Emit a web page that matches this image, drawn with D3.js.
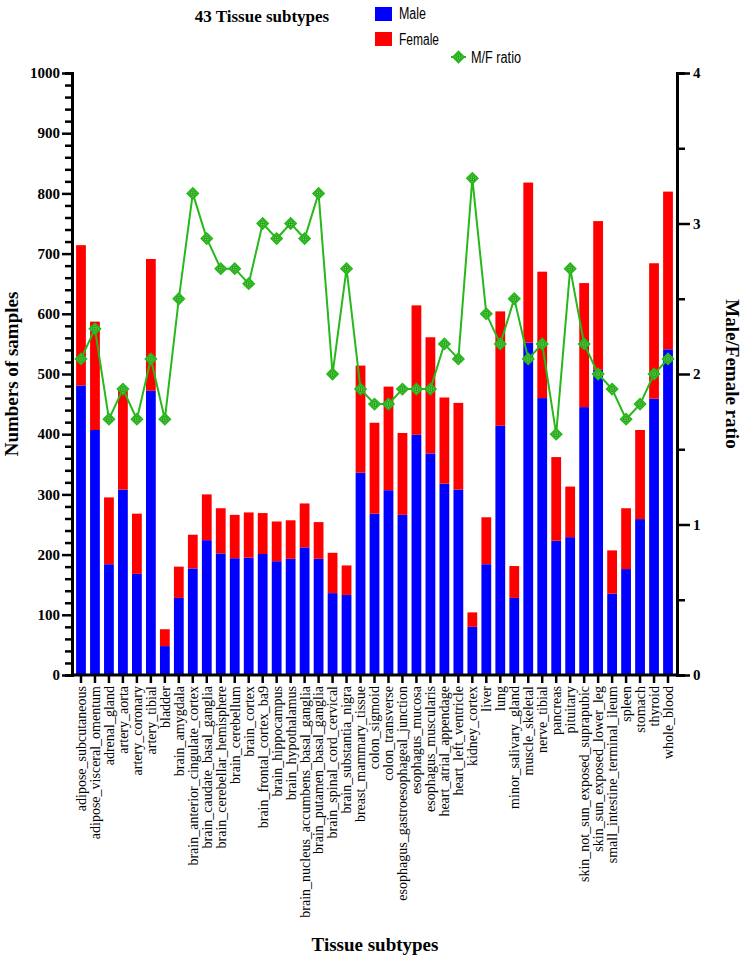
<!DOCTYPE html>
<html>
<head>
<meta charset="utf-8">
<script src="https://cdn.jsdelivr.net/npm/d3@7"></script>
<style>
  body { margin: 0; background: #fff; }
  svg text { font-family: "Liberation Serif", "Times New Roman", serif; }
  .legend text { font-family: "Liberation Sans", Arial, sans-serif; }
</style>
</head>
<body>
<div id="chart"></div>
<script>
//Data
const tissues = ["adipose_subcutaneous","adipose_visceral_omentum","adrenal_gland","artery_aorta","artery_coronary",
  "artery_tibial","bladder","brain_amygdala","brain_anterior_cingulate_cortex","brain_caudate_basal_ganglia",
  "brain_cerebellar_hemisphere","brain_cerebellum","brain_cortex","brain_frontal_cortex_ba9","brain_hippocampus",
  "brain_hypothalamus","brain_nucleus_accumbens_basal_ganglia","brain_putamen_basal_ganglia","brain_spinal_cord_cervical",
  "brain_substantia_nigra","breast_mammary_tissue","colon_sigmoid","colon_transverse","esophagus_gastroesophageal_junction",
  "esophagus_mucosa","esophagus_muscularis","heart_atrial_appendage","heart_left_ventricle","kidney_cortex","liver","lung",
  "minor_salivary_gland","muscle_skeletal","nerve_tibial","pancreas","pituitary","skin_not_sun_exposed_suprapubic",
  "skin_sun_exposed_lower_leg","small_intestine_terminal_ileum","spleen","stomach","thyroid","whole_blood"];

const male = [481,407,184,308,168,472,48,128,177,224,202,194,195,201,189,193,212,193,136,133,336,268,307,266,399,368,318,308,80,184,414,128,552,460,223,229,445,507,135,176,259,459,541];
const female = [233,180,111,167,100,219,28,52,56,76,75,72,75,68,66,64,73,61,67,49,178,151,172,136,215,193,143,144,24,78,190,53,266,210,139,84,206,247,72,101,148,225,262];
const ratio = [2.1,2.3,1.7,1.9,1.7,2.1,1.7,2.5,3.2,2.9,2.7,2.7,2.6,3.0,2.9,3.0,2.9,3.2,2.0,2.7,1.9,1.8,1.8,1.9,1.9,1.9,2.2,2.1,3.3,2.4,2.2,2.5,2.1,2.2,1.6,2.7,2.2,2.0,1.9,1.7,1.8,2.0,2.1];

const leftTicks = [0,100,200,300,400,500,600,700,800,900,1000];
const rightTicks = [0,1,2,3,4];

//Variables
let width = 744, height = 959,
    plot = {left: 72, right: 677, top: 73, bottom: 675};

let svg = d3.select("#chart").append("svg")
  .attr("width", width)
  .attr("height", height);

let x = d3.scaleBand()
  .domain(tissues)
  .range([74, 675])
  .paddingInner(0.3)
  .paddingOuter(0.15);

let yL = d3.scaleLinear().domain([0, 1000]).range([plot.bottom, plot.top]);
let yR = d3.scaleLinear().domain([0, 4]).range([plot.bottom, plot.top]);

let rows = tissues.map((t, i) => ({name: t, male: male[i], female: female[i], ratio: ratio[i]}));

//Bars: male at bottom, female stacked above
svg.append("g").selectAll("rect.male")
  .data(rows).enter().append("rect")
    .attr("x", d => x(d.name))
    .attr("width", x.bandwidth())
    .attr("y", d => yL(d.male))
    .attr("height", d => yL(0) - yL(d.male))
    .attr("fill", "#0000ff");

svg.append("g").selectAll("rect.female")
  .data(rows).enter().append("rect")
    .attr("x", d => x(d.name))
    .attr("width", x.bandwidth())
    .attr("y", d => yL(d.male + d.female))
    .attr("height", d => yL(d.male) - yL(d.male + d.female))
    .attr("fill", "#ff0000");

//Ratio line
let cx = d => x(d.name) + x.bandwidth() / 2;
let line = d3.line().x(cx).y(d => yR(d.ratio));
svg.append("path")
  .datum(rows)
  .attr("d", line)
  .attr("fill", "none")
  .attr("stroke", "#27b81b")
  .attr("stroke-width", 2);

function drawMarker(g) {
  g.append("path")
    .attr("d", d3.symbol().type(d3.symbolSquare).size(55))
    .attr("transform", "rotate(45)")
    .attr("fill", "#7ad86a")
    .attr("stroke", "#27b81b")
    .attr("stroke-width", 2);
  g.append("circle").attr("r", 2.6).attr("fill", "none").attr("stroke", "#1f9a12").attr("stroke-width", 0.9);
  g.append("path").attr("d", "M-2.6,0H2.6M0,-2.6V2.6").attr("stroke", "#1f9a12").attr("stroke-width", 0.9);
}

svg.append("g").selectAll("g.marker")
  .data(rows).enter().append("g")
    .attr("class", "marker")
    .attr("transform", d => "translate(" + cx(d) + "," + yR(d.ratio) + ")")
    .each(function() { drawMarker(d3.select(this)); });

//Axes
let leftAxis = svg.append("g")
  .attr("transform", "translate(" + plot.left + ",0)")
  .call(d3.axisLeft(yL).tickValues(d3.range(0, 1001, 20)).tickSize(7).tickFormat(""));
leftAxis.call(g => g.selectAll(".tick line").attr("stroke-width", 2.5));
leftAxis.call(g => g.selectAll(".tick").filter(d => d % 100 === 0).select("line").attr("x2", -10));
leftAxis.select(".domain").attr("stroke-width", 3);

svg.append("g").selectAll("text")
  .data(leftTicks).enter().append("text")
    .attr("x", plot.left - 12)
    .attr("y", d => yL(d))
    .attr("dy", "0.35em")
    .attr("text-anchor", "end")
    .attr("font-size", 15)
    .attr("font-weight", "bold")
    .text(d => d);

let rightAxis = svg.append("g")
  .attr("transform", "translate(" + plot.right + ",0)")
  .call(d3.axisRight(yR).tickValues(d3.range(0, 4.01, 0.5)).tickSize(8).tickFormat(""));
rightAxis.call(g => g.selectAll(".tick line").attr("stroke-width", 2.5));
rightAxis.call(g => g.selectAll(".tick").filter(d => d % 1 === 0).select("line").attr("x2", 13));
rightAxis.select(".domain").attr("stroke-width", 3);

svg.append("g").selectAll("text")
  .data(rightTicks).enter().append("text")
    .attr("x", plot.right + 16)
    .attr("y", d => yR(d))
    .attr("dy", "0.35em")
    .attr("font-size", 15)
    .attr("font-weight", "bold")
    .text(d => d);

let bottomAxis = svg.append("g")
  .attr("transform", "translate(0," + plot.bottom + ")")
  .call(d3.axisBottom(x).tickSize(8).tickSizeOuter(0).tickFormat(""));
bottomAxis.select(".domain").attr("d", "M" + plot.left + ",0H" + plot.right).attr("stroke-width", 3);
bottomAxis.selectAll(".tick line").attr("stroke-width", 2.5);

//X labels, rotated
svg.append("g").selectAll("text")
  .data(tissues).enter().append("text")
    .attr("transform", d => "translate(" + (x(d) + x.bandwidth() / 2) + "," + (plot.bottom + 11) + ") rotate(-90)")
    .attr("dy", "0.35em")
    .attr("text-anchor", "end")
    .attr("font-size", 14)
    .text(d => d);

//Titles
svg.append("text")
  .attr("x", 262).attr("y", 22)
  .attr("text-anchor", "middle")
  .attr("font-size", 17).attr("font-weight", "bold")
  .text("43 Tissue subtypes");

svg.append("text")
  .attr("x", 375).attr("y", 951)
  .attr("text-anchor", "middle")
  .attr("font-size", 19).attr("font-weight", "bold")
  .text("Tissue subtypes");

svg.append("text")
  .attr("transform", "translate(18," + ((plot.top + plot.bottom) / 2) + ") rotate(-90)")
  .attr("text-anchor", "middle")
  .attr("font-size", 19).attr("font-weight", "bold")
  .text("Numbers of samples");

svg.append("text")
  .attr("transform", "translate(726," + ((plot.top + plot.bottom) / 2) + ") rotate(90)")
  .attr("text-anchor", "middle")
  .attr("font-size", 19).attr("font-weight", "bold")
  .text("Male/Female ratio");

//Legend
let legend = svg.append("g").attr("class", "legend");
legend.append("rect").attr("x", 375).attr("y", 7).attr("width", 17).attr("height", 14).attr("fill", "#0000ff");
legend.append("text").attr("x", 399).attr("y", 19).attr("font-size", 16)
  .attr("textLength", 27).attr("lengthAdjust", "spacingAndGlyphs").text("Male");
legend.append("rect").attr("x", 375).attr("y", 32).attr("width", 17).attr("height", 14).attr("fill", "#ff0000");
legend.append("text").attr("x", 399).attr("y", 45).attr("font-size", 16)
  .attr("textLength", 40).attr("lengthAdjust", "spacingAndGlyphs").text("Female");
legend.append("path").attr("d", "M451,57H466").attr("stroke", "#27b81b").attr("stroke-width", 2);
let lm = legend.append("g").attr("transform", "translate(458.5,57)");
drawMarker(lm);
legend.append("text").attr("x", 471).attr("y", 63).attr("font-size", 16)
  .attr("textLength", 50).attr("lengthAdjust", "spacingAndGlyphs").text("M/F ratio");
</script>
</body>
</html>
